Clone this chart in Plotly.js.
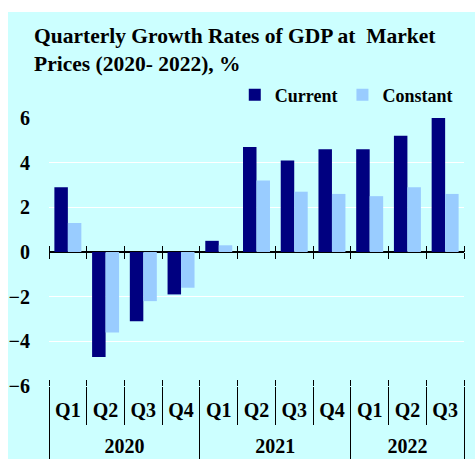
<!DOCTYPE html>
<html>
<head>
<meta charset="utf-8">
<script src="https://cdn.plot.ly/plotly-3.0.1.min.js"></script>
<style>html,body{margin:0;padding:0;background:#fff;}#chart{width:475px;height:459px;}</style>
</head>
<body>
<div id="chart"></div>
<script>
const years = ['2020','2020','2020','2020','2021','2021','2021','2021','2022','2022','2022'];
const quarters = ['Q1','Q2','Q3','Q4','Q1','Q2','Q3','Q4','Q1','Q2','Q3'];
const currentPrices = [2.9, -4.7, -3.1, -1.9, 0.5, 4.7, 4.1, 4.6, 4.6, 5.2, 6.0];
const constantPrices = [1.3, -3.6, -2.2, -1.6, 0.3, 3.2, 2.7, 2.6, 2.5, 2.9, 2.6];
const yTicks = [-6, -4, -2, 0, 2, 4, 6];
const seriesNames = ['Current', 'Constant'];

const FONT = 'Liberation Serif, Times New Roman, serif';
const n = quarters.length;
const categories = years.map((y, i) => y + ' ' + quarters[i]);
const boundaries = quarters.map((_, i) => i - 0.5).concat([n - 0.5]);

// year groups derived from the years array
const uniqueYears = years.filter((y, i) => years.indexOf(y) === i);
const yearCenters = uniqueYears.map(y => {
  const first = years.indexOf(y), last = years.lastIndexOf(y);
  return (first + last) / 2;
});
const yearBounds = uniqueYears.map(y => years.indexOf(y) - 0.5).concat([n - 0.5]);

const traces = [
  {type:'bar', name: seriesNames[0], x: categories, y: currentPrices,
   marker:{color:'#000080'}, hoverinfo:'skip'},
  {type:'bar', name: seriesNames[1], x: categories, y: constantPrices,
   marker:{color:'#99ccff'}, hoverinfo:'skip'}
];
['x2','x3','x4','x5','x6'].forEach(ax => traces.push(
  {type:'scatter', x:[], y:[], xaxis: ax, showlegend:false, hoverinfo:'skip'}));

const overlayAx = (opts) => Object.assign({
  overlaying:'x', range:[-0.5, n - 0.5], tickmode:'array',
  showticklabels:false, showgrid:false, zeroline:false, showline:false, fixedrange:true,
  tickwidth:1, tickcolor:'#000'
}, opts);

const layout = {
  width:475, height:459,
  margin:{l:49, r:11, t:118, b:73},
  paper_bgcolor:'#ffffff',
  plot_bgcolor:'#ccffff',
  barmode:'group', bargap:0.285, bargroupgap:0,
  title:{
    text:'Quarterly Growth Rates of GDP at\u00a0 Market<br>Prices (2020- 2022), %',
    font:{family:FONT, size:21.5, color:'#000', weight:'bold'},
    x:34/475, xref:'container', xanchor:'left',
    y:1-43/459, yref:'container', yanchor:'top'
  },
  showlegend:true,
  legend:{orientation:'h', x:0.985, xanchor:'right', y:1.086, yanchor:'middle',
    font:{family:FONT, size:18, color:'#000', weight:'bold'}, bgcolor:'rgba(0,0,0,0)',
    traceorder:'normal'},
  xaxis:{
    type:'category', tickmode:'array', tickvals: categories, ticktext: quarters,
    tickson:'boundaries', ticks:'outside', ticklen:38,
    tickwidth:1, tickcolor:'#000', ticklabelstandoff:10,
    showgrid:false, showline:false, fixedrange:true,
    tickfont:{family:FONT, size:20, color:'#000', weight:'bold'}
  },
  // year labels
  xaxis2: overlayAx({anchor:'y', side:'bottom', tickvals: yearCenters, ticktext: uniqueYears,
    showticklabels:true, ticks:'', ticklabelstandoff:46,
    tickfont:{family:FONT, size:20, color:'#000', weight:'bold'}}),
  // year dividers
  xaxis3: overlayAx({anchor:'y', side:'bottom', tickvals: yearBounds, ticks:'outside', ticklen:73}),
  // small ticks crossing the zero line
  xaxis4: overlayAx({anchor:'free', position:0.5, side:'bottom', tickvals: boundaries, ticks:'outside', ticklen:6}),
  xaxis5: overlayAx({anchor:'free', position:0.5, side:'top', tickvals: boundaries, ticks:'outside', ticklen:6}),
  // dividers poking slightly into the plot at the bottom
  xaxis6: overlayAx({anchor:'free', position:0, side:'top', tickvals: boundaries, ticks:'outside', ticklen:6}),
  yaxis:{
    range:[-6, 6], tickmode:'array', tickvals: yTicks,
    ticks:'outside', ticklen:14, tickcolor:'rgba(0,0,0,0)',
    gridcolor:'#ffffff', gridwidth:1.5,
    zeroline:true, zerolinecolor:'#000', zerolinewidth:1.5,
    showline:false, fixedrange:true,
    tickfont:{family:FONT, size:20, color:'#000', weight:'bold'}
  },
  shapes:[
    {type:'rect', layer:'below', xref:'paper', yref:'paper',
     x0:(8-49)/415, x1:1.1, y0:-0.3, y1:(386-12)/268,
     fillcolor:'#ccffff', line:{width:0}}
  ]
};

Plotly.newPlot('chart', traces, layout, {staticPlot:true, displayModeBar:false});
</script>
</body>
</html>
